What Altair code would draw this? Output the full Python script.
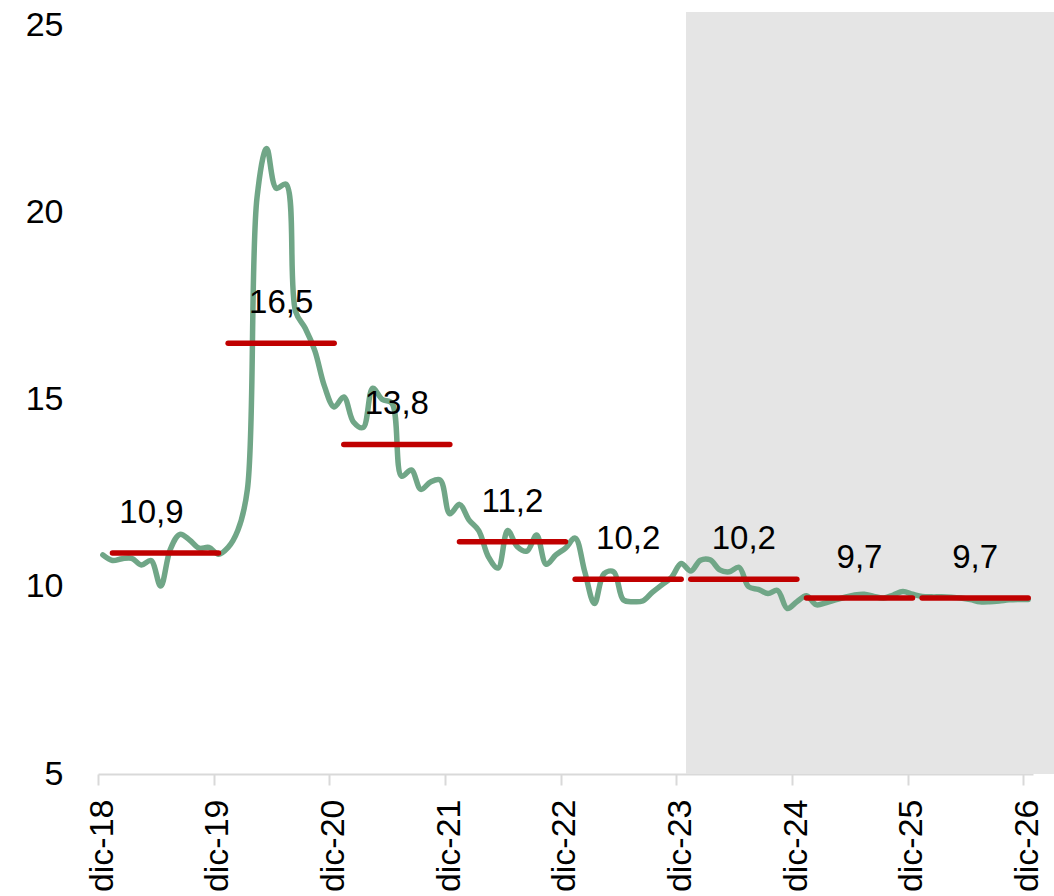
import altair as alt
import pandas as pd

# Monthly series, dic-18 .. dic-26 (97 months)
tasa = [
    10.85, 10.70, 10.75, 10.76, 10.58, 10.70, 10.02, 11.00, 11.40, 11.25, 11.03, 11.05, 10.87,  # dic-18 .. dic-19
    11.05, 11.50, 12.60, 20.40, 21.70, 20.64, 20.75, 17.35, 16.90, 16.30, 15.35, 14.80,         # 2020
    15.07, 14.40, 14.25, 15.30, 15.00, 14.90, 12.95, 13.12, 12.60, 12.80, 12.85, 11.95,         # 2021
    12.20, 11.78, 11.50, 10.80, 10.50, 11.50, 11.07, 10.95, 11.38, 10.60, 10.85, 11.03,         # 2022
    11.30, 10.40, 9.55, 10.35, 10.40, 9.65, 9.60, 9.62, 9.85, 10.05, 10.25, 10.62,              # 2023
    10.42, 10.71, 10.72, 10.45, 10.40, 10.52, 10.00, 9.93, 9.82, 9.90, 9.42, 9.60,              # 2024
    9.76, 9.52, 9.57, 9.65, 9.72, 9.78, 9.80, 9.74, 9.70, 9.78, 9.87, 9.80,                     # 2025
    9.74, 9.73, 9.73, 9.72, 9.70, 9.66, 9.60, 9.60, 9.62, 9.65, 9.66, 9.66,                     # 2026
]

# Annual averages
anios = [2019, 2020, 2021, 2022, 2023, 2024, 2025, 2026]
promedios = [10.9, 16.5, 13.8, 11.2, 10.2, 10.2, 9.7, 9.7]

# Axis tick labels (one per December)
etiquetas_x = ["dic-18", "dic-19", "dic-20", "dic-21", "dic-22",
               "dic-23", "dic-24", "dic-25", "dic-26"]

# Projection period shading: from ene-24 to the right edge
inicio_proyeccion = 61

FONT = "Liberation Sans"
W, H = 935, 749

# month k is drawn in the middle of its slot
serie = pd.DataFrame({"pos": [k + 0.5 for k in range(len(tasa))], "valor": tasa})

anual = pd.DataFrame({
    "anio": anios,
    "x": [(a - 2018) * 12 - 11 + 0.5 for a in anios],
    "x2": [(a - 2018) * 12 + 0.5 for a in anios],
    "valor": promedios,
    "texto": [f"{v:.1f}".replace(".", ",") for v in promedios],
})
anual["xm"] = (anual["x"] + anual["x2"]) / 2

sombra = pd.DataFrame({"x": [inicio_proyeccion], "x2": [99.2], "y": [5], "y2": [25.35]})

label_expr = "[" + ",".join(f"'{t}'" for t in etiquetas_x) + "][round(datum.value / 12)]"

xscale = alt.Scale(domain=[0, 97], nice=False, zero=False)
yscale = alt.Scale(domain=[5, 25], nice=False, zero=False)

x_axis = alt.Axis(
    values=[12 * i for i in range(len(etiquetas_x))],
    labelExpr=label_expr,
    labelAngle=-90,
    labelAlign="right",
    labelBaseline="middle",
    labelFont=FONT,
    labelFontSize=34,
    labelColor="#000000",
    labelPadding=14,
    labelOffset=4,
    domainColor="#D9D9D9",
    domainWidth=2,
    tickColor="#D9D9D9",
    tickWidth=2,
    tickSize=11,
    grid=False,
    title=None,
)

y_axis = alt.Axis(
    values=[5, 10, 15, 20, 25],
    labelFont=FONT,
    labelFontSize=34,
    labelColor="#000000",
    labelPadding=35,
    domain=False,
    ticks=False,
    grid=False,
    title=None,
)

fondo = alt.Chart(sombra).mark_rect(color="#E5E5E5").encode(
    x=alt.X("x:Q", scale=xscale, axis=x_axis),
    x2="x2:Q",
    y=alt.Y("y:Q", scale=yscale, axis=y_axis),
    y2="y2:Q",
)

linea = alt.Chart(serie).mark_line(
    color="#70A687", strokeWidth=5.5, interpolate="catmull-rom", strokeCap="round", strokeJoin="round"
).encode(
    x=alt.X("pos:Q", scale=xscale),
    y=alt.Y("valor:Q", scale=yscale),
)

promedio = alt.Chart(anual).mark_rule(
    color="#C00000", strokeWidth=5.5, strokeCap="round"
).encode(
    x=alt.X("x:Q", scale=xscale),
    x2="x2:Q",
    y=alt.Y("valor:Q", scale=yscale),
)

texto_base = dict(font=FONT, fontSize=33, color="#000000", align="center", baseline="alphabetic", dy=-30)
enc_texto = dict(
    x=alt.X("xm:Q", scale=xscale),
    y=alt.Y("valor:Q", scale=yscale),
    text="texto:N",
)

# first label sits a little to the left of its segment centre
rotulo_2019 = alt.Chart(anual).transform_filter("datum.anio == 2019").mark_text(
    dx=-14, **texto_base
).encode(**enc_texto)

rotulos = alt.Chart(anual).transform_filter("datum.anio != 2019").mark_text(
    **texto_base
).encode(**enc_texto)

chart = (
    alt.layer(fondo, linea, promedio, rotulo_2019, rotulos)
    .properties(
        width=W,
        height=H,
        autosize=alt.AutoSizeParams(type="none"),
        padding={"left": 98, "top": 25, "right": 21, "bottom": 122},
        background="white",
    )
    .configure_view(stroke=None)
)

chart.save("out.html", embed_options={"renderer": "svg", "actions": False})
